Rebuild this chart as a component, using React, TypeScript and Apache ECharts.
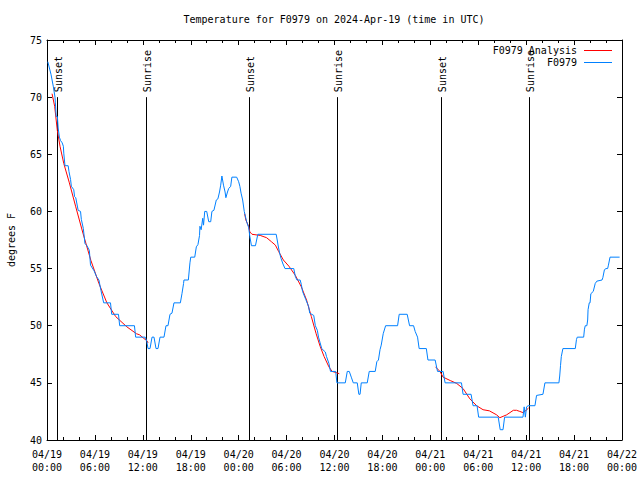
import React, { useEffect, useRef } from "react";
import * as echarts from "echarts";

const titleText = "Temperature for F0979 on 2024-Apr-19 (time in UTC)";
const yAxisName = "degrees F";
const analysisName = "F0979 Analysis";
const stationName = "F0979";

// x in hours since 04/19 00:00 UTC
const xTickLabels = [
  "04/19\n00:00", "04/19\n06:00", "04/19\n12:00", "04/19\n18:00",
  "04/20\n00:00", "04/20\n06:00", "04/20\n12:00", "04/20\n18:00",
  "04/21\n00:00", "04/21\n06:00", "04/21\n12:00", "04/21\n18:00",
  "04/22\n00:00",
];

const sunEventHours = [1.28, 12.35, 25.25, 36.3, 49.3, 60.3];
const sunEventLabels = ["Sunset", "Sunrise", "Sunset", "Sunrise", "Sunset", "Sunrise"];

const stationObs: [number, number][] = [
  [0.1, 73.1], [0.5, 72.0], [0.8, 70.9], [1.0, 70.0], [1.05, 69.5], [1.15, 68.3], [1.3, 68.3],
  [1.4, 67.3], [1.55, 66.5], [1.7, 66.2], [1.9, 66.0], [2.05, 65.7], [2.1, 65.1], [2.25, 64.0],
  [2.65, 64.0], [2.75, 63.5], [2.95, 62.8], [3.05, 62.2], [3.35, 61.9], [3.45, 61.3], [3.6, 61.2],
  [3.9, 60.1], [4.2, 60.0], [4.3, 59.3], [4.55, 58.5], [4.75, 57.2], [5.0, 57.0], [5.3, 56.6],
  [5.45, 55.3], [5.9, 54.8], [6.2, 54.3], [6.5, 54.0], [6.75, 53.1], [7.1, 52.0], [7.95, 52.0],
  [8.1, 51.0], [8.95, 51.0], [9.1, 50.0], [10.95, 50.0], [11.1, 49.0], [12.3, 49.0], [12.5, 48.6],
  [12.65, 48.0], [12.9, 48.0], [13.15, 49.0], [13.4, 49.0], [13.65, 48.0], [13.9, 48.0],
  [14.15, 49.0], [14.65, 49.0], [14.9, 50.0], [15.15, 50.0], [15.4, 51.0], [15.65, 51.1],
  [15.9, 52.0], [16.7, 52.0], [16.9, 52.8], [17.1, 53.7], [17.15, 54.0], [17.7, 54.0],
  [17.9, 55.5], [18.0, 56.0], [18.5, 56.0], [18.7, 56.9], [18.9, 57.1], [19.1, 57.9],
  [19.15, 58.7], [19.3, 58.4], [19.5, 59.4], [19.6, 58.8], [19.75, 60.0], [20.0, 60.0],
  [20.25, 59.1], [20.5, 59.1], [20.65, 60.0], [20.9, 60.1], [21.2, 61.0], [21.4, 61.1],
  [21.6, 61.7], [21.75, 62.3], [21.9, 63.1], [22.1, 62.3], [22.3, 61.7], [22.4, 61.2],
  [22.6, 61.7], [22.75, 62.0], [23.0, 62.2], [23.15, 63.0], [23.75, 63.0], [24.0, 62.6],
  [24.15, 62.2], [24.3, 61.6], [24.5, 61.0], [24.7, 60.0], [24.8, 59.7], [25.0, 59.1],
  [25.25, 58.6], [25.4, 57.8], [25.6, 57.0], [26.1, 57.0], [26.4, 58.0], [28.7, 58.0],
  [29.0, 56.8], [29.15, 56.3], [29.3, 55.9], [29.55, 55.4], [29.8, 55.0], [30.9, 55.0],
  [31.1, 54.3], [31.3, 54.0], [31.7, 54.0], [31.85, 53.6], [32.0, 53.0], [32.4, 52.3],
  [32.75, 51.7], [32.9, 51.1], [33.4, 50.9], [33.6, 50.0], [33.85, 49.6], [34.0, 49.0],
  [34.2, 48.5], [34.4, 48.0], [34.85, 47.7], [35.0, 47.3], [35.3, 46.7], [35.5, 46.0],
  [36.15, 46.0], [36.3, 45.0], [37.35, 45.0], [37.6, 46.0], [37.85, 46.0], [38.1, 45.5],
  [38.35, 45.0], [38.85, 45.0], [39.05, 44.0], [39.2, 44.0], [39.35, 45.0], [40.1, 45.0],
  [40.35, 46.0], [41.1, 46.0], [41.3, 46.85], [41.5, 47.0], [41.7, 47.9], [41.85, 48.3],
  [42.1, 49.3], [42.4, 50.0], [43.9, 50.0], [44.1, 51.0], [45.1, 51.0], [45.4, 50.0],
  [45.9, 50.0], [46.1, 49.5], [46.4, 49.0], [46.6, 48.0], [47.5, 48.0], [47.7, 47.0],
  [48.6, 47.0], [48.9, 46.0], [49.6, 46.0], [49.85, 45.0], [51.9, 45.0], [52.1, 44.0],
  [53.1, 44.0], [53.35, 43.0], [53.85, 43.0], [54.05, 42.0], [56.5, 42.0], [56.75, 40.9],
  [57.1, 40.9], [57.3, 42.0], [59.6, 42.0], [59.75, 42.9], [59.9, 42.0], [60.05, 42.9],
  [60.25, 43.0], [61.1, 43.0], [61.3, 43.9], [62.1, 44.0], [62.35, 45.0], [64.1, 45.0],
  [64.2, 45.6], [64.3, 46.5], [64.4, 47.3], [64.6, 48.0], [66.15, 48.0], [66.3, 48.8],
  [66.4, 49.0], [67.2, 49.0], [67.3, 49.7], [67.4, 50.0], [67.6, 50.0], [67.7, 50.5],
  [67.75, 51.4], [67.9, 52.0], [68.0, 52.0], [68.1, 52.8], [68.4, 53.0], [68.65, 53.7],
  [68.85, 53.9], [69.5, 54.0], [69.6, 54.2], [69.8, 54.9], [70.0, 55.0], [70.2, 55.0],
  [70.3, 55.3], [70.5, 56.0], [71.7, 56.0],
];

const analysisNight1: [number, number][] = [
  [0.63, 70.3], [0.96, 69.2], [1.29, 67.1], [1.63, 65.7], [2.1, 64.2], [2.8, 62.5],
  [3.6, 60.4], [4.5, 58.1], [5.5, 55.7], [6.5, 53.7], [7.5, 52.0], [8.6, 50.8],
  [10.0, 49.9], [11.2, 49.3], [11.6, 49.2], [12.1, 48.9], [12.5, 48.7], [12.65, 48.5],
];
const analysisNight2: [number, number][] = [
  [24.75, 59.8], [24.9, 59.25], [25.25, 58.7], [25.4, 58.2], [25.67, 58.0], [26.7, 57.9],
  [27.5, 57.7], [28.1, 57.35], [28.6, 57.05], [29.0, 56.5], [29.6, 55.75], [30.3, 55.2],
  [31.1, 54.4], [31.85, 53.4], [32.5, 52.25], [33.1, 50.8], [33.7, 49.3], [34.2, 48.2],
  [34.7, 47.3], [35.3, 46.4], [35.7, 46.0], [36.2, 45.9], [36.6, 45.8],
];
const analysisNight3: [number, number][] = [
  [48.65, 46.4], [49.2, 46.0], [49.6, 45.5], [50.5, 45.2], [51.3, 44.95], [52.1, 44.5],
  [52.95, 43.6], [53.8, 43.0], [54.6, 42.65], [55.4, 42.55], [56.3, 42.2], [56.7, 41.95],
  [57.55, 42.2], [58.4, 42.6], [58.8, 42.6], [59.2, 42.5], [59.6, 42.4], [60.0, 42.6],
  [60.3, 42.8],
];

const FONT = '"DejaVu Sans Mono", monospace';
const RED = "#ff0000";
const BLUE = "#0080ff";

export default function App() {
  const ref = useRef<HTMLDivElement>(null);
  useEffect(() => {
    if (!ref.current) return;
    const chart = echarts.init(ref.current, undefined, { renderer: "svg" });
    const axisCommon = {
      type: "value",
      axisLine: { show: true, onZero: false, lineStyle: { color: "#000", width: 1 } },
      axisTick: { show: true, inside: true, length: 5, lineStyle: { color: "#000" } },
      splitLine: { show: false },
    };
    const xCommon = {
      ...axisCommon,
      min: 0,
      max: 72,
      interval: 6,
      minorTick: { show: true, splitNumber: 3, length: 3, lineStyle: { color: "#000" } },
    };
    const yCommon = { ...axisCommon, min: 40, max: 75, interval: 5 };
    const redSeries = (data: [number, number][]) => ({
      type: "line",
      data,
      showSymbol: false,
      symbol: "none",
      lineStyle: { color: RED, width: 1 },
      itemStyle: { color: RED },
      z: 2,
    });
    const option: any = {
      animation: false,
      grid: { left: 47, right: 18, top: 40, bottom: 40, outerBoundsMode: "none", containLabel: false },
      textStyle: { fontFamily: FONT },
      xAxis: [
        {
          ...xCommon,
          position: "bottom",
          axisLabel: {
            show: true,
            margin: 8,
            color: "#000",
            fontFamily: FONT,
            fontSize: 10,
            lineHeight: 13,
            formatter: (v: number) => xTickLabels[Math.round(v / 6)] ?? "",
          },
        },
        { ...xCommon, position: "top", axisLabel: { show: false } },
      ],
      yAxis: [
        {
          ...yCommon,
          position: "left",
          name: yAxisName,
          nameLocation: "middle",
          nameGap: 31,
          nameTextStyle: { color: "#000", fontFamily: FONT, fontSize: 10 },
          axisLabel: { show: true, margin: 5, color: "#000", fontFamily: FONT, fontSize: 10 },
        },
        { ...yCommon, position: "right", axisLabel: { show: false } },
      ],
      graphic: [
        {
          type: "text",
          x: 334,
          y: 19,
          style: {
            text: titleText,
            textAlign: "center",
            textVerticalAlign: "middle",
            font: `10px ${FONT}`,
            fill: "#000",
          },
        },
        {
          type: "text",
          x: 577,
          y: 50,
          z: 100,
          style: { text: analysisName, textAlign: "right", textVerticalAlign: "middle", font: `10px ${FONT}`, fill: "#000" },
        },
        {
          type: "line",
          z: 100,
          shape: { x1: 584, y1: 50.5, x2: 612, y2: 50.5 },
          style: { stroke: RED, lineWidth: 1 },
        },
        {
          type: "text",
          x: 577,
          y: 62,
          z: 100,
          style: { text: stationName, textAlign: "right", textVerticalAlign: "middle", font: `10px ${FONT}`, fill: "#000" },
        },
        {
          type: "line",
          z: 100,
          shape: { x1: 584, y1: 62.5, x2: 612, y2: 62.5 },
          style: { stroke: BLUE, lineWidth: 1 },
        },
      ],
      series: [
        {
          type: "custom",
          data: sunEventHours.map((h, i) => [h, 70, i]),
          encode: { x: 0, y: 1 },
          z: 1,
          renderItem: (params: any, api: any) => {
            const h = api.value(0);
            const idx = api.value(2);
            const top = api.coord([h, 70]);
            const bottom = api.coord([h, 40]);
            const x = Math.round(top[0]) + 0.5;
            return {
              type: "group",
              children: [
                {
                  type: "line",
                  shape: { x1: x, y1: bottom[1], x2: x, y2: top[1] },
                  style: { stroke: "#000", lineWidth: 1 },
                },
                {
                  type: "text",
                  x: x + 1,
                  y: top[1] - 5,
                  rotation: Math.PI / 2,
                  style: {
                    text: sunEventLabels[idx],
                    textAlign: "left",
                    textVerticalAlign: "middle",
                    font: `10px ${FONT}`,
                    fill: "#000",
                  },
                },
              ],
            };
          },
        },
        redSeries(analysisNight1),
        redSeries(analysisNight2),
        redSeries(analysisNight3),
        {
          type: "line",
          data: stationObs,
          showSymbol: false,
          symbol: "none",
          lineStyle: { color: BLUE, width: 1 },
          itemStyle: { color: BLUE },
          z: 3,
        },
      ],
    };
    chart.setOption(option);
    return () => chart.dispose();
  }, []);
  return (
    <div
      ref={ref}
      style={{ position: "absolute", left: 0, top: 0, width: 640, height: 480, background: "#fff" }}
    />
  );
}
